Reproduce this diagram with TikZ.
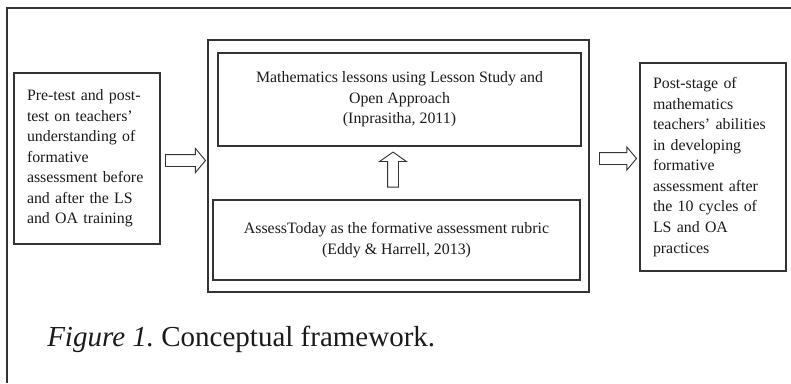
\documentclass[tikz,border=0pt]{standalone}
\usepackage{fontspec}
\setmainfont{Liberation Serif}
\usetikzlibrary{shapes.arrows}

\definecolor{framegray}{HTML}{333333}
\definecolor{inkgray}{HTML}{1A1A1A}

\tikzset{
	box/.style={draw=framegray, line width=1.1pt, inner ysep=0pt, inner xsep=9.75pt},
	bodytext/.style={text=inkgray, font=\fontsize{11.9}{15.4}\selectfont},
	blockarrow/.style={single arrow, draw=framegray, line width=0.7pt, single arrow tip angle=100}
}

\begin{document}
\begin{tikzpicture}[x=0.75pt,y=-0.75pt]
			\useasboundingbox (0,0) rectangle (791,383);

			% page frame
			\draw [framegray, line width=1.1pt] (7,383) -- (7,8) -- (791,8);

			% outer box round the two middle boxes
			\node[box, minimum width=285.75pt, minimum height=189pt] (training) at (398.5,166) {};

			% left and right boxes
			\node[box, bodytext, minimum width=109.5pt, minimum height=128.25pt, text width=90pt, align=left] (pretest) at (87,158.5)
				{Pre-test and post-\\test on teachers'\\understanding of\\formative\\assessment before\\and after the LS\\and OA training};
			\node[box, bodytext, minimum width=109.5pt, minimum height=156pt, text width=90pt, align=left] (poststage) at (713,167)
				{Post-stage of\\mathematics\\teachers' abilities\\in developing\\formative\\assessment after\\the 10 cycles of\\LS and OA\\practices};

			% middle boxes
			\node[box, bodytext, minimum width=272.25pt, minimum height=69.75pt, align=center] (lessons) at (399.5,99.5)
				{Mathematics lessons using Lesson Study and\\Open Approach\\(Inprasitha, 2011)};
			\node[box, bodytext, minimum width=275.25pt, minimum height=60pt, align=center] (rubric) at (396.5,240)
				{AssessToday as the formative assessment rubric\\(Eddy \& Harrell, 2013)};

			% block arrows
			\node[blockarrow, inner sep=4.125pt, single arrow head extend=4.5pt, minimum height=30pt] (arrowin) at (183,160.5) {};
			\node[blockarrow, inner sep=3.75pt, single arrow head extend=6pt, minimum height=26.25pt, single arrow tip angle=110, rotate=90] (arrowup) at (393,171.5) {};
			\node[blockarrow, inner sep=4.125pt, single arrow head extend=4.1pt, minimum height=27.75pt] (arrowout) at (615.5,158.5) {};

			% caption
			\node[anchor=base west, inner sep=0pt, text=inkgray, font=\fontsize{21.75}{26}\selectfont] (caption) at (47,346)
				{\itshape Figure 1.\upshape\ Conceptual framework.};

		\end{tikzpicture}
\end{document}
